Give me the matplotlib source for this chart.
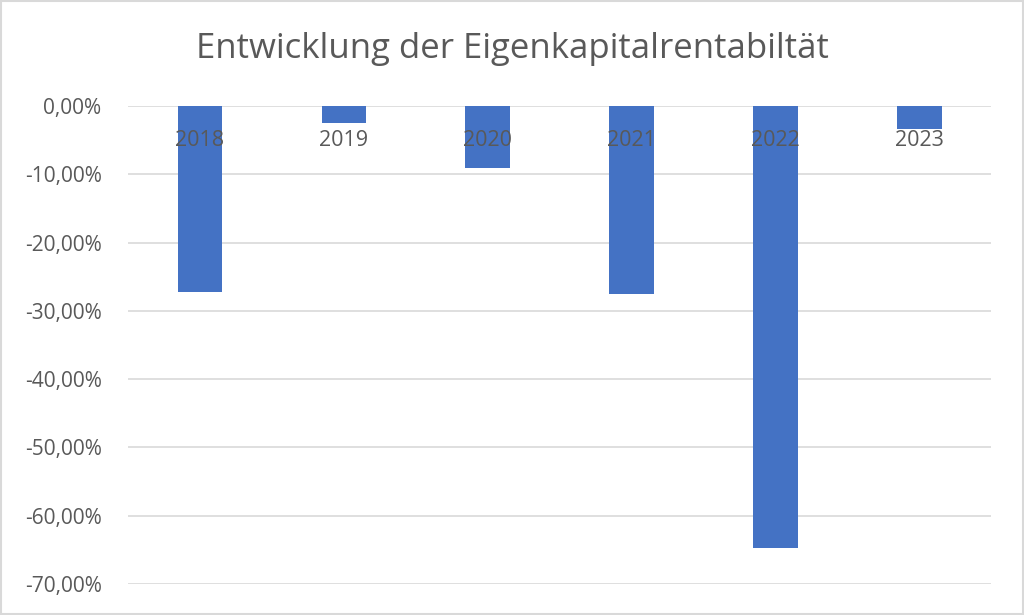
import matplotlib.pyplot as plt
from matplotlib.ticker import FuncFormatter, MultipleLocator
from matplotlib.patches import Rectangle

# Data (return on equity, in %)
years = ["2018", "2019", "2020", "2021", "2022", "2023"]
roe = [-27.2, -2.5, -9.1, -27.5, -64.7, -3.4]

title = "Entwicklung der Eigenkapitalrentabiltät"
bar_color = "#4472C4"
text_color = "#595959"
grid_color = "#D9D9D9"

plt.rcParams['font.family'] = ['Open Sans', 'DejaVu Sans']

fig = plt.figure(figsize=(10.24, 6.15), dpi=100)
ax = fig.add_axes([0.125, 0.0504, 0.843, 0.7772])

x = range(len(years))
ax.bar(x, roe, width=0.31, color=bar_color, zorder=3)

ax.set_ylim(-70, 0)
ax.set_xlim(-0.5, len(years) - 0.5)
ax.yaxis.set_major_locator(MultipleLocator(10))
ax.yaxis.set_major_formatter(FuncFormatter(lambda v, _: f"{v:.2f}%".replace(".", ",")))
ax.grid(axis='y', color=grid_color, linewidth=1.2, zorder=0)

# category labels sit just below the zero line, drawn on top of the bars
ax.spines['bottom'].set_position(('data', 0))
ax.set_xticks(list(x))
ax.set_xticklabels(years)
ax.xaxis.set_zorder(4)
for s in ax.spines.values():
    s.set_visible(False)
ax.tick_params(axis='x', length=0, pad=17, labelsize=15.5, labelcolor=text_color)
ax.tick_params(axis='y', length=0, pad=19, labelsize=15, labelcolor=text_color)

fig.text(0.5, 0.92, title, ha='center', va='center', fontsize=25, color=text_color)

# light border around the whole chart
fig.patches.append(Rectangle((0.001, 0.002), 0.998, 0.996, transform=fig.transFigure,
                             fill=False, edgecolor=grid_color, linewidth=1.5))

fig.savefig("out.png", dpi=100)
